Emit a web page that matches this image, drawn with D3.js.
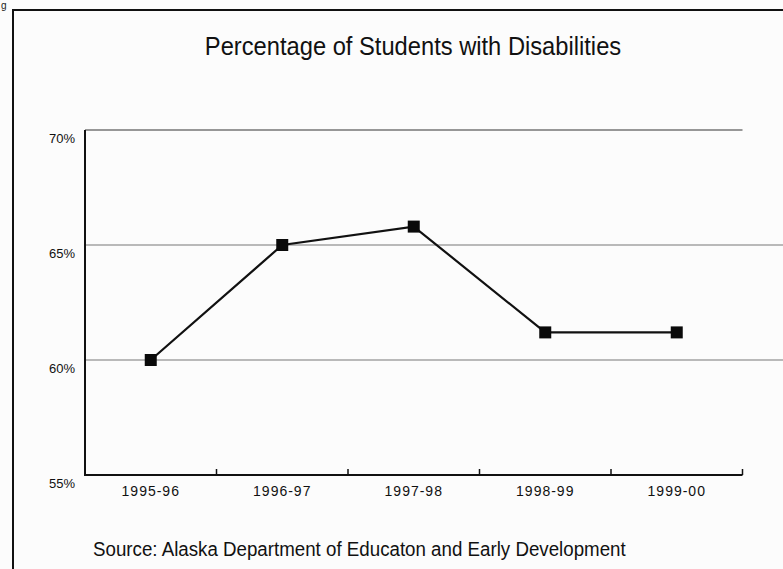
<!DOCTYPE html>
<html>
<head>
<meta charset="utf-8">
<script src="https://cdn.jsdelivr.net/npm/d3@7"></script>
<style>
  html, body { margin: 0; padding: 0; background: #fcfcfc; }
  svg { display: block; }
</style>
</head>
<body>
<svg id="chart" width="783" height="569"></svg>
<script>
const categories = ["1995-96", "1996-97", "1997-98", "1998-99", "1999-00"];
const values = [60, 65, 65.8, 61.2, 61.2];
const yTicks = [55, 60, 65, 70];
const titleText = "Percentage of Students with Disabilities";
const sourceText = "Source: Alaska Department of Educaton and Early Development";

const svg = d3.select("#chart");
const font = "'Liberation Sans', Arial, sans-serif";

// outer frame (partially visible)
svg.append("path")
  .attr("d", "M13,569 L13,10 L783,10")
  .attr("fill", "none").attr("stroke", "#111").attr("stroke-width", 2);

// caption fragment above frame
svg.append("text").attr("x", 1).attr("y", 9).attr("font-family", font)
  .attr("font-size", 10).attr("fill", "#222").text("g");

const plot = { left: 85, right: 742.5, top: 130, bottom: 475 };

const x = d3.scaleBand().domain(categories).range([plot.left, plot.right]).padding(0);
const y = d3.scaleLinear().domain([55, 70]).range([plot.bottom, plot.top]);

// title (condensed look)
svg.append("text")
  .attr("transform", "translate(413,55) scale(0.93,1)")
  .attr("text-anchor", "middle")
  .attr("font-family", font).attr("font-size", 25.5).attr("fill", "#111")
  .text(titleText);

// gridlines
svg.append("g").selectAll("line")
  .data(yTicks.filter(d => d > 55))
  .join("line")
  .attr("x1", plot.left).attr("x2", d => d === 70 ? plot.right : 783)
  .attr("y1", d => y(d)).attr("y2", d => y(d))
  .attr("stroke", d => d === 70 ? "#333" : "#777")
  .attr("stroke-width", 1.2);

// y axis labels
const yAxis = d3.axisLeft(y).tickValues(yTicks).tickFormat(d => d + "%").tickSize(0).tickPadding(10);
const gy = svg.append("g").attr("transform", `translate(${plot.left},0)`).call(yAxis);
gy.select(".domain").remove();
gy.selectAll("text")
  .attr("dy", "0.95em")
  .attr("font-family", font).attr("font-size", 13)
  .attr("fill", "#111");

// x axis labels
const xAxis = d3.axisBottom(x).tickSize(0).tickPadding(11);
const gx = svg.append("g").attr("transform", `translate(0,${plot.bottom})`).call(xAxis);
gx.select(".domain").remove();
gx.selectAll("text")
  .attr("font-family", font).attr("font-size", 14).attr("letter-spacing", 1)
  .attr("fill", "#111");

// axis lines
svg.append("line")
  .attr("x1", plot.left).attr("x2", plot.left)
  .attr("y1", y(70)).attr("y2", y(55) + 1)
  .attr("stroke", "#111").attr("stroke-width", 2);
svg.append("line")
  .attr("x1", plot.left - 1).attr("x2", plot.right)
  .attr("y1", y(55)).attr("y2", y(55))
  .attr("stroke", "#111").attr("stroke-width", 2);

// tick marks at band edges (pointing up)
svg.append("g").selectAll("line")
  .data(categories)
  .join("line")
  .attr("x1", d => x(d) + x.bandwidth()).attr("x2", d => x(d) + x.bandwidth())
  .attr("y1", y(55)).attr("y2", y(55) - 6)
  .attr("stroke", "#111").attr("stroke-width", 1.5);

// data line
const line = d3.line()
  .x((d, i) => x(categories[i]) + x.bandwidth() / 2)
  .y(d => y(d));
svg.append("path")
  .datum(values)
  .attr("d", line)
  .attr("fill", "none").attr("stroke", "#111").attr("stroke-width", 2.2);

// markers
const ms = 12;
svg.append("g").selectAll("rect")
  .data(values)
  .join("rect")
  .attr("x", (d, i) => x(categories[i]) + x.bandwidth() / 2 - ms / 2)
  .attr("y", d => y(d) - ms / 2)
  .attr("width", ms).attr("height", ms)
  .attr("fill", "#0a0a0a");

// source
svg.append("text")
  .attr("transform", "translate(93,556) scale(0.96,1)")
  .attr("font-family", font).attr("font-size", 19.5).attr("fill", "#111")
  .text(sourceText);
</script>
</body>
</html>
